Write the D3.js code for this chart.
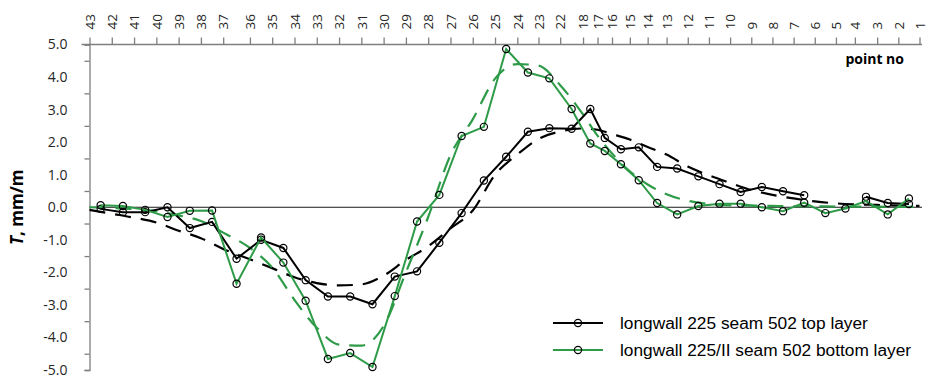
<!DOCTYPE html>
<html>
<head>
<meta charset="utf-8">
<script src="https://cdn.jsdelivr.net/npm/d3@7"></script>
<style>
    body { margin: 0; background: #fff; }
    svg { display: block; }
</style>
</head>
<body>
<div id="chart"></div>
<script>
// survey points along the profile line and their distance from point 43 (m)
const pointNo = [43, 42, 41, 40, 39, 38, 37, 36, 35, 34, 33, 32, 31, 30, 29, 28, 27, 26, 25, 24, 23, 22,
    18, 17, 16, 15, 14, 13, 12, 11, 10, 9, 8, 7, 6, 5, 4, 3, 2, 1];
const pointDist = [0, 20, 40, 60, 80, 100, 120, 144, 164, 184, 204, 224, 244, 264, 284, 304, 324, 344, 364, 384, 403, 422.5,
    443, 456, 469, 485, 501, 518, 537, 556, 575, 594, 613, 632, 651, 670, 687, 707, 726, 745];

// measured strain T (mm/m) for each section between neighbouring points
const topLayer = [-0.05, -0.15, -0.15, 0.0, -0.64, -0.45, -1.58, -1.0, -1.25, -2.24,
    -2.74, -2.74, -2.98, -2.13, -1.97, -1.09, -0.18, 0.82, 1.55, 2.32,
    2.43, 2.41, 3.02, 2.13, 1.78, 1.84, 1.24, 1.19, 0.95, 0.71,
    0.47, 0.62, 0.49, 0.37, null, null, 0.32, 0.13, 0.1];
const bottomLayer = [0.06, 0.04, -0.08, -0.3, -0.11, -0.1, -2.35, -0.93, -1.7, -2.87,
    -4.66, -4.48, -4.91, -2.73, -0.44, 0.38, 2.19, 2.47, 4.86, 4.14,
    3.96, 3.02, 1.96, 1.73, 1.32, 0.83, 0.13, -0.22, 0.04, 0.11,
    0.11, 0.0, -0.12, 0.14, -0.18, -0.04, 0.19, -0.22, 0.27];

// predicted strain (mm/m) at each point
const topTheory = [-0.08, -0.2, -0.32, -0.47, -0.72, -0.95, -1.28, -1.6, -1.87, -2.15,
    -2.33, -2.4, -2.37, -2.1, -1.62, -1.2, -0.65, -0.1, 1.0, 1.62, 2.1, 2.33,
    2.42, 2.38, 2.25, 2.08, 1.85, 1.62, 1.25, 0.98, 0.75, 0.53, 0.38, 0.27, 0.18, 0.12, 0.09, 0.07, 0.05, 0.04];
const bottomTheory = [0.0, -0.02, -0.06, -0.12, -0.25, -0.42, -0.78, -1.25, -1.85, -2.85,
    -3.7, -4.22, -4.25, -3.65, -2.0, -0.3, 1.6, 2.7, 3.95, 4.4, 4.35, 3.75,
    2.85, 2.2, 1.65, 1.1, 0.7, 0.4, 0.2, 0.1, 0.06, 0.05, 0.04, 0.03, 0.03, 0.02, 0.02, 0.02, 0.01, 0.01];

const yTickValues = [5, 4, 3, 2, 1, 0, -1, -2, -3, -4, -5];
const seriesNames = ['longwall 225 seam 502 top layer', 'longwall 225/II seam 502 bottom layer'];

const colors = { top: '#000000', bottom: '#2e9b48', axis: '#7f7f7f', text: '#262626' };

const width = 926;
const height = 376;
const svg = d3.select('#chart').append('svg').attr('width', width).attr('height', height);

const x = d3.scaleLinear().domain([0, d3.max(pointDist)]).range([89.5, 919.5]);
const y = d3.scaleLinear().domain([-5, 5]).range([370, 44.5]);
const fmt = d3.formatLocale({ decimal: '.', thousands: ',', grouping: [3], currency: ['', ''], minus: '-' }).format('.1f');

// section midpoints for the measured values
const mids = d3.pairs(pointDist, (a, b) => (a + b) / 2);

// zero line
svg.append('line')
    .attr('x1', x(0))
    .attr('x2', 922)
    .attr('y1', y(0))
    .attr('y2', y(0))
    .attr('stroke', '#1a1a1a')
    .attr('stroke-width', 1);

// y axis: labels and half-step ticks
const yAxis = svg.append('g').attr('transform', `translate(${x(0)},0)`);
yAxis.call(d3.axisLeft(y).tickValues(yTickValues).tickSize(0).tickPadding(22).tickFormat(fmt));
yAxis.select('.domain').remove();
yAxis.selectAll('text')
    .attr('fill', colors.text)
    .style('font-family', '"Open Sans", sans-serif')
    .style('font-size', '14px');
const yMinor = svg.append('g').attr('transform', `translate(${x(0)},0)`);
yMinor.call(d3.axisLeft(y).tickValues(d3.range(-5, 5.01, 0.5).filter((v) => v % 1 !== 0 || Math.abs(v) === 5)).tickSize(5).tickFormat(''));
yMinor.selectAll('line').attr('stroke', colors.axis).attr('stroke-width', 1.3);
yMinor.select('.domain').attr('stroke', colors.axis).attr('stroke-width', 1.3);

// x axis on top, point numbers
const xAxis = svg.append('g').attr('transform', `translate(0,${y(5)})`);
xAxis.call(d3.axisTop(x).tickValues(pointDist).tickSize(7).tickFormat((d, i) => pointNo[i]));
xAxis.select('.domain').attr('d', `M${x(0) - 8},0H922`).attr('stroke', colors.axis).attr('stroke-width', 1.3);
xAxis.selectAll('line').attr('stroke', colors.axis).attr('stroke-width', 1.3);
xAxis.selectAll('text')
    .attr('transform', 'rotate(-90)')
    .attr('x', 15)
    .attr('y', 0)
    .attr('dy', '0.35em')
    .attr('text-anchor', 'start')
    .attr('fill', colors.text)
    .style('font-family', '"Open Sans", sans-serif')
    .style('font-size', '13.5px');

svg.append('text')
    .attr('x', 904)
    .attr('y', 64)
    .attr('text-anchor', 'end')
    .attr('fill', '#000')
    .style('font-family', '"Open Sans", sans-serif')
    .style('font-weight', 'bold')
    .style('font-size', '14px')
    .text('point no');

const yTitle = svg.append('text')
    .attr('transform', `translate(23,${y(0)}) rotate(-90)`)
    .attr('text-anchor', 'middle')
    .attr('fill', '#000')
    .style('font-family', '"Open Sans", sans-serif')
    .style('font-weight', 'bold')
    .style('font-size', '17px');
yTitle.append('tspan').style('font-style', 'italic').text('T');
yTitle.append('tspan').text(', mm/m');

// series
const theoryLine = d3.line().x((d) => x(d[0])).y((d) => y(d[1])).curve(d3.curveMonotoneX);
const measLine = d3.line().defined((d) => d[1] !== null).x((d) => x(d[0])).y((d) => y(d[1]));

const series = [
    { key: 'top', meas: topLayer, theory: topTheory },
    { key: 'bottom', meas: bottomLayer, theory: bottomTheory },
];

series.forEach((s) => {
    svg.append('path')
        .datum(pointDist.map((d, i) => [d, s.theory[i]]))
        .attr('d', theoryLine)
        .attr('fill', 'none')
        .attr('stroke', colors[s.key])
        .attr('stroke-width', 2.2)
        .attr('stroke-dasharray', '16,10');
});

series.forEach((s) => {
    const pts = mids.map((d, i) => [d, s.meas[i]]);
    svg.append('path')
        .datum(pts)
        .attr('d', measLine)
        .attr('fill', 'none')
        .attr('stroke', colors[s.key])
        .attr('stroke-width', 2);
    svg.append('g')
        .selectAll('circle')
        .data(pts.filter((d) => d[1] !== null))
        .join('circle')
        .attr('cx', (d) => x(d[0]))
        .attr('cy', (d) => y(d[1]))
        .attr('r', 3.6)
        .attr('fill', 'none')
        .attr('stroke', '#000')
        .attr('stroke-width', 1.2);
});

// legend
const legend = svg.append('g').attr('transform', 'translate(553,323)');
const items = legend.selectAll('g')
    .data(series)
    .join('g')
    .attr('transform', (d, i) => `translate(0,${i * 27})`);
items.append('line')
    .attr('x1', 0)
    .attr('x2', 50)
    .attr('stroke', (d) => colors[d.key])
    .attr('stroke-width', 2);
items.append('circle')
    .attr('cx', 25)
    .attr('r', 3.6)
    .attr('fill', 'none')
    .attr('stroke', '#000')
    .attr('stroke-width', 1.2);
items.append('text')
    .attr('x', 67)
    .attr('dy', '0.35em')
    .attr('fill', '#000')
    .style('font-family', '"Liberation Sans", Arial, sans-serif')
    .style('font-size', '17.3px')
    .text((d, i) => seriesNames[i]);
</script>
</body>
</html>
